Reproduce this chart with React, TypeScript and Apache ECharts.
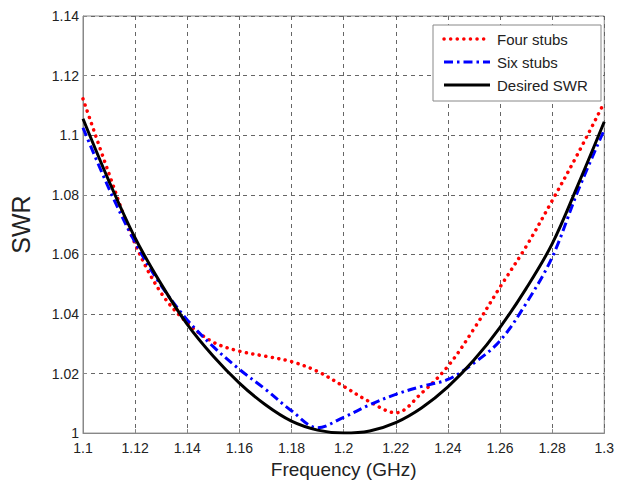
import React, { useEffect, useRef } from "react";
import * as echarts from "echarts";

const freq = [1.1, 1.11, 1.12, 1.13, 1.14, 1.15, 1.16, 1.17, 1.18, 1.19, 1.2, 1.21, 1.22, 1.23, 1.24, 1.25, 1.26, 1.27, 1.28, 1.29, 1.3];
const fourStubs = [1.1122, 1.087, 1.0635, 1.047, 1.037, 1.0305, 1.0275, 1.0258, 1.024, 1.0207, 1.0157, 1.0105, 1.0068, 1.0135, 1.0224, 1.035, 1.049, 1.0626, 1.078, 1.094, 1.111];
const sixStubs = [1.1025, 1.082, 1.064, 1.0495, 1.038, 1.029, 1.0214, 1.0147, 1.0075, 1.0018, 1.0053, 1.0095, 1.013, 1.0157, 1.018, 1.0235, 1.031, 1.0435, 1.059, 1.0815, 1.1018];
const desired = [1.1055, 1.0845, 1.0655, 1.05, 1.0365, 1.0258, 1.0168, 1.0095, 1.004, 1.001, 1.0, 1.0007, 1.0035, 1.0085, 1.0155, 1.0245, 1.0355, 1.0485, 1.0635, 1.0835, 1.1045];

const seriesNames = ["Four stubs", "Six stubs", "Desired SWR"];

const fmt = (v: number) => parseFloat(v.toFixed(2)).toString();

export default function App() {
  const ref = useRef<HTMLDivElement>(null);
  useEffect(() => {
    if (!ref.current) return;
    const chart = echarts.init(ref.current, undefined, { renderer: "svg" });
    const mk = (vals: number[]) => freq.map((f, i) => [f, vals[i]]);
    const ff = "Liberation Sans, Arial, sans-serif";
    const textStyle = { color: "#222", fontFamily: ff };
    const styles = [
      { color: "#ff0000", width: 3.5, type: [0.1, 6.5], cap: "round" },
      { color: "#0000ff", width: 3, type: [9, 4, 2.5, 4], cap: "butt" },
      { color: "#000000", width: 3, type: "solid", cap: "butt" },
    ];
    const legendX = 433, legendY = 25;
    const legendGraphics: any[] = [
      { type: "rect", shape: { x: legendX, y: legendY, width: 168, height: 76 }, style: { fill: "#fff", stroke: "#888", lineWidth: 1 }, z: 100 },
    ];
    seriesNames.forEach((n, i) => {
      const yy = legendY + 14 + i * 23;
      const s = styles[i];
      legendGraphics.push({
        type: "line", shape: { x1: 444, y1: yy, x2: 490, y2: yy },
        style: { stroke: s.color, lineWidth: s.width, lineDash: s.type === "solid" ? null : s.type, lineCap: s.cap },
        z: 101,
      });
      legendGraphics.push({
        type: "text", x: 497, y: yy, style: { text: n, fill: "#222", font: `15px ${ff}`, verticalAlign: "middle", align: "left" }, z: 101,
      });
    });
    chart.setOption({
      animation: false,
      backgroundColor: "#fff",
      grid: { left: 75, right: 11, top: 16, bottom: 50, show: true, borderColor: "#888", borderWidth: 1, backgroundColor: "transparent" },
      xAxis: {
        type: "value", min: 1.1, max: 1.3, interval: 0.02,
        name: "Frequency (GHz)", nameLocation: "middle", nameGap: 26,
        nameTextStyle: { ...textStyle, fontSize: 19 },
        axisLine: { show: true, lineStyle: { color: "#888" } },
        axisTick: { show: true, inside: true, length: 4, lineStyle: { color: "#888" } },
        axisLabel: { ...textStyle, fontSize: 14, margin: 8, formatter: fmt },
        splitLine: { show: true, lineStyle: { color: "#666", type: [4, 4], width: 1 } },
      },
      yAxis: {
        type: "value", min: 1, max: 1.14, interval: 0.02,
        name: "SWR", nameLocation: "middle", nameGap: 50,
        nameTextStyle: { ...textStyle, fontSize: 25 },
        axisLine: { show: true, lineStyle: { color: "#888" } },
        axisTick: { show: true, inside: true, length: 4, lineStyle: { color: "#888" } },
        axisLabel: { ...textStyle, fontSize: 14, margin: 4, formatter: fmt },
        splitLine: { show: true, lineStyle: { color: "#666", type: [4, 4], width: 1 } },
      },
      graphic: legendGraphics,
      series: seriesNames.map((n, i) => ({
        name: n, type: "line", data: mk([fourStubs, sixStubs, desired][i]), smooth: 0.35, symbol: "none",
        lineStyle: { color: styles[i].color, width: styles[i].width, type: styles[i].type, cap: styles[i].cap },
        itemStyle: { color: styles[i].color },
      })),
    });
    return () => chart.dispose();
  }, []);
  return <div ref={ref} style={{ width: 617, height: 484, position: "absolute", left: 0, top: 0 }} />;
}
